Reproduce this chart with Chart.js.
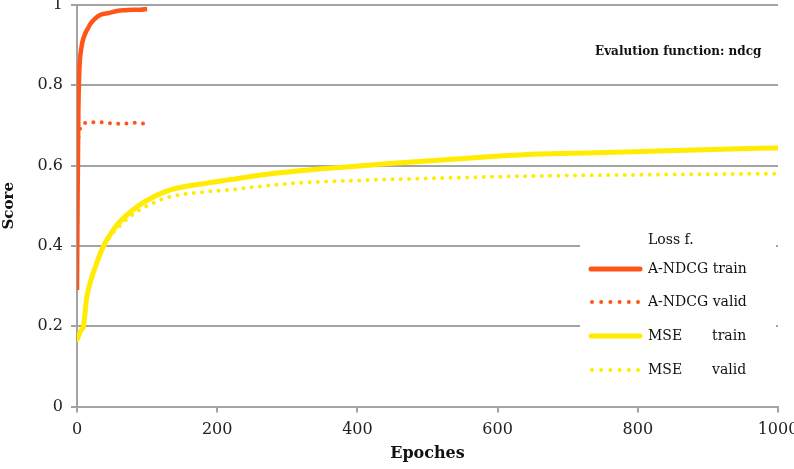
<!DOCTYPE html>
<html>
<head>
<meta charset="utf-8">
<script src="https://cdn.jsdelivr.net/npm/chart.js@4.4.1/dist/chart.umd.min.js"></script>
<style>
  html, body { margin: 0; padding: 0; background: #fff; }
  #wrap { width: 794px; height: 469px; position: relative; }
</style>
</head>
<body>
<div id="wrap"><canvas id="chart"></canvas></div>
<script>
// values
const ndcgTrainEpochs = [0, 1, 2, 3, 4, 6, 8, 12, 16, 20, 25, 33, 45, 57, 70, 80, 90, 100];
const ndcgTrainScores = [0.29, 0.55, 0.74, 0.82, 0.86, 0.89, 0.91, 0.93, 0.943, 0.955, 0.965, 0.975, 0.98, 0.985, 0.987, 0.988, 0.988, 0.99];

const ndcgValidEpochs = [0, 2, 4, 7, 10, 20, 30, 40, 50, 60, 70, 80, 90, 95];
const ndcgValidScores = [0.63, 0.67, 0.69, 0.702, 0.705, 0.708, 0.708, 0.707, 0.705, 0.704, 0.705, 0.707, 0.705, 0.705];

const mseTrainEpochs = [0, 3, 6, 9, 14, 20, 26, 37, 50, 61, 85, 109, 132, 180, 218, 260, 318, 380, 446, 520, 650, 740, 840, 920, 1000];
const mseTrainScores = [0.165, 0.18, 0.19, 0.198, 0.273, 0.315, 0.347, 0.397, 0.435, 0.46, 0.497, 0.522, 0.539, 0.555, 0.565, 0.576, 0.587, 0.596, 0.605, 0.614, 0.628, 0.632, 0.637, 0.641, 0.644];

const mseValidEpochs = [0, 3, 6, 9, 14, 20, 26, 37, 50, 61, 85, 109, 132, 180, 218, 260, 318, 400, 500, 650, 800, 1000];
const mseValidScores = [0.165, 0.18, 0.19, 0.198, 0.273, 0.315, 0.345, 0.393, 0.43, 0.45, 0.485, 0.507, 0.522, 0.534, 0.54, 0.548, 0.557, 0.563, 0.568, 0.574, 0.577, 0.58];

const legendTitle = "Loss f.";
const legendLabels = ["A-NDCG train", "A-NDCG valid", "MSE", "MSE"];
const legendSuffix = ["", "", "train", "valid"];
const chartTitle = "Evalution function: ndcg";

const ORANGE = "#ff5519";
const YELLOW = "#ffec00";
const GRID = "#a3a3a3";
const SERIF = "'DejaVu Serif', 'Liberation Serif', serif";

const toPoints = (xs, ys) => xs.map((x, i) => ({ x: x, y: ys[i] }));

const dotted = { borderDash: [0, 8.3], borderCapStyle: "round" };

const series = [
  { data: toPoints(ndcgTrainEpochs, ndcgTrainScores), color: ORANGE, width: 4.5, dash: false },
  { data: toPoints(ndcgValidEpochs, ndcgValidScores), color: ORANGE, width: 4, dash: true },
  { data: toPoints(mseTrainEpochs, mseTrainScores), color: YELLOW, width: 5, dash: false },
  { data: toPoints(mseValidEpochs, mseValidScores), color: YELLOW, width: 4, dash: true }
];

// legend box + corner title
const overlay = {
  id: "overlay",
  afterDraw(chart) {
    const ctx = chart.ctx;
    ctx.save();
    ctx.fillStyle = "#fff";
    ctx.fillRect(580, 232, 196, 168);

    ctx.fillStyle = "#111";
    ctx.font = "14px " + SERIF;
    ctx.textBaseline = "middle";
    ctx.textAlign = "left";
    ctx.fillText(legendTitle, 648, 240);

    const rowsY = [269, 302, 336, 370];
    series.forEach((s, i) => {
      const y = rowsY[i];
      ctx.strokeStyle = s.color;
      ctx.lineWidth = s.dash ? 4 : 5;
      ctx.lineCap = "round";
      ctx.setLineDash(s.dash ? [0, 9.2] : []);
      ctx.beginPath();
      ctx.moveTo(s.dash ? 592 : 591, y);
      ctx.lineTo(640, y);
      ctx.stroke();
      ctx.setLineDash([]);
      ctx.fillStyle = "#111";
      ctx.fillText(legendLabels[i], 648, y);
      if (legendSuffix[i]) ctx.fillText(legendSuffix[i], 712, y);
    });

    ctx.font = "bold 12px " + SERIF;
    ctx.fillText(chartTitle, 595, 52);
    ctx.restore();
  }
};

new Chart(document.getElementById("chart"), {
  type: "line",
  data: {
    datasets: series.map(s => Object.assign({
      data: s.data,
      borderColor: s.color,
      borderWidth: s.width,
      pointRadius: 0,
      fill: false,
      cubicInterpolationMode: "monotone"
    }, s.dash ? dotted : {}))
  },
  options: {
    responsive: true,
    maintainAspectRatio: false,
    animation: false,
    layout: { padding: { top: 5, right: 16, left: 0, bottom: 0 } },
    plugins: { legend: { display: false }, tooltip: { enabled: false } },
    scales: {
      x: {
        type: "linear",
        min: 0,
        max: 1000,
        ticks: { stepSize: 200, color: "#222", padding: 8, maxRotation: 0, font: { family: SERIF, size: 16 }, callback: v => String(v) },
        grid: { drawOnChartArea: false, drawTicks: true, tickLength: 6, color: GRID, lineWidth: 2 },
        border: { color: GRID, width: 2 },
        title: { display: true, text: "Epoches", color: "#111", padding: { top: 0, bottom: 6 }, font: { family: SERIF, size: 16, weight: "bold" } },
        afterFit(scale) {
          scale.height = 62.5;
          scale.paddingLeft = 0;
          scale.paddingRight = 0;
        }
      },
      y: {
        min: 0,
        max: 1,
        ticks: { stepSize: 0.2, color: "#222", padding: 8, font: { family: SERIF, size: 16 }, callback: v => String(Number(v.toFixed(1))) },
        grid: { color: GRID, lineWidth: 2, tickLength: 6 },
        border: { color: GRID, width: 2 },
        title: { display: true, text: "Score", color: "#111", padding: 0, font: { family: SERIF, size: 15, weight: "bold" } },
        afterFit(scale) {
          scale.width = 77;
          scale.paddingTop = 0;
          scale.paddingBottom = 0;
        }
      }
    }
  },
  plugins: [overlay]
});
</script>
</body>
</html>
